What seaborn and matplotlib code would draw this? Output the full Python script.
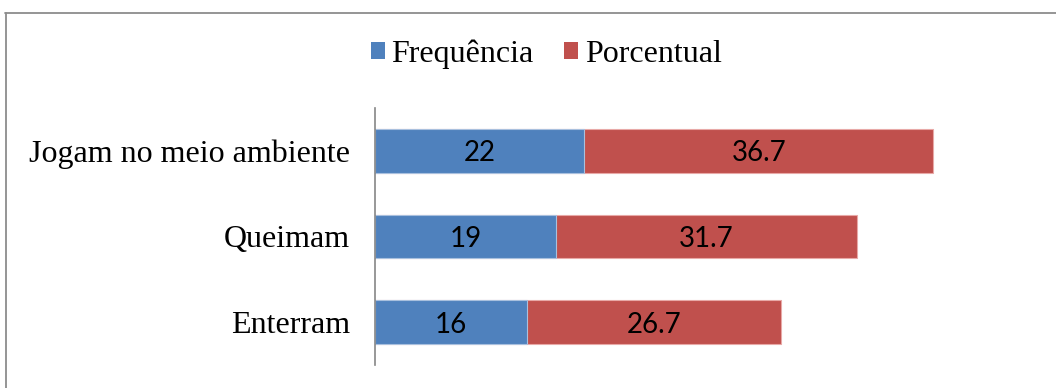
import matplotlib
matplotlib.use("Agg")
import matplotlib.pyplot as plt
from matplotlib.lines import Line2D
from matplotlib.patches import Patch
import seaborn as sns
import pandas as pd

categorias = ["Jogam no meio ambiente", "Queimam", "Enterram"]
frequencia = [22, 19, 16]
porcentual = [36.7, 31.7, 26.7]
series = ["Frequência", "Porcentual"]
cores = ["#4F81BD", "#C0504D"]

sns.set_theme(style="white")
plt.rcParams["font.family"] = ["Liberation Serif", "DejaVu Serif"]
plt.rcParams["text.color"] = "black"

fig = plt.figure(figsize=(10.56, 3.88), dpi=100)
ax = fig.add_axes([375 / 1056, 23 / 388, 666 / 1056, 257 / 388])

df = pd.DataFrame({
    "categoria": categorias,
    "freq": frequencia,
    "pct": porcentual,
})
df["total"] = df["freq"] + df["pct"]

# stacked: the full length in red, the frequency segment in blue on top
sns.barplot(data=df, x="total", y="categoria", color=cores[1], saturation=1,
            width=0.51, edgecolor="#E8A9A7", linewidth=0.8, ax=ax)
sns.barplot(data=df, x="freq", y="categoria", color=cores[0], saturation=1,
            width=0.51, edgecolor="#A9C0DE", linewidth=0.8, ax=ax)

lbl_font = dict(family=["Lato", "DejaVu Sans"], fontsize=20, color="black",
                ha="center", va="center_baseline")
for i, (f, p) in enumerate(zip(frequencia, porcentual)):
    ax.text(f / 2, i, f"{f}", **lbl_font)
    ax.text(f + p / 2, i, f"{p}", **lbl_font)

ax.set_xlim(0, 70)
ax.set_ylim(2.5, -0.5)
ax.set_xlabel("")
ax.set_ylabel("")
ax.set_xticks([])
ax.tick_params(axis="y", length=0, pad=18, labelsize=23, labelcolor="black")
for s in ["top", "right", "bottom"]:
    ax.spines[s].set_visible(False)
ax.spines["left"].set_color("#868686")
ax.spines["left"].set_linewidth(1.2)

handles = [Patch(facecolor=c, edgecolor="none") for c in cores]
fig.legend(handles, series, loc="center", bbox_to_anchor=(546 / 1056, 1 - 54 / 388),
           ncol=2, frameon=False, fontsize=23, handlelength=0.45, handleheight=0.45,
           handletextpad=0.2, columnspacing=0.95, labelcolor="black")

# chart area frame
fig.add_artist(Line2D([5 / 1056, 1.0], [1 - 12.5 / 388, 1 - 12.5 / 388],
                      color="#8C8C8C", linewidth=1.3, transform=fig.transFigure))
fig.add_artist(Line2D([5.5 / 1056, 5.5 / 1056], [0, 1 - 12.5 / 388],
                      color="#8C8C8C", linewidth=1.3, transform=fig.transFigure))

fig.savefig("out.png", dpi=100, facecolor="white")
